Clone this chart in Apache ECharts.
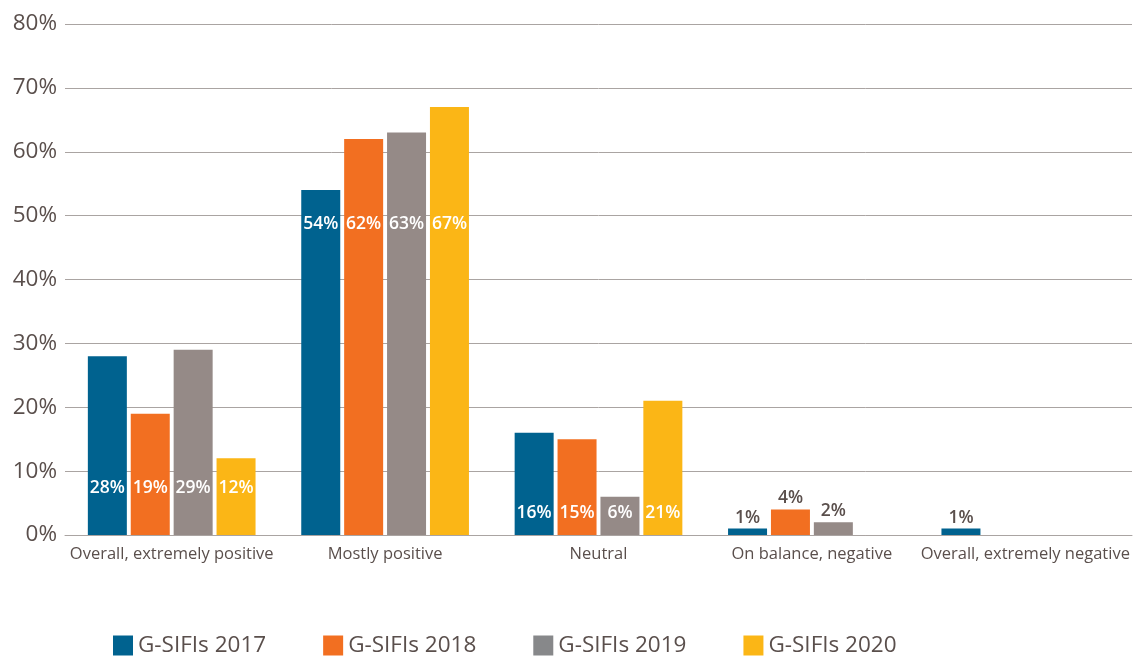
<!DOCTYPE html>
<html>
<head>
<meta charset="utf-8">
<script src="https://cdn.jsdelivr.net/npm/echarts@6/dist/echarts.min.js"></script>
<style>
html,body{margin:0;padding:0;background:#fff;}
#chart{width:1137px;height:658px;}
</style>
</head>
<body>
<div id="chart"></div>
<script>
const categories = ['Overall, extremely positive', 'Mostly positive', 'Neutral', 'On balance, negative', 'Overall, extremely negative'];
const seriesNames = ['G-SIFIs 2017', 'G-SIFIs 2018', 'G-SIFIs 2019', 'G-SIFIs 2020'];
const values2017 = [28, 54, 16, 1, 1];
const values2018 = [19, 62, 15, 4, 0];
const values2019 = [29, 63, 6, 2, 0];
const values2020 = [12, 67, 21, 0, 0];
const yTicks = [0, 10, 20, 30, 40, 50, 60, 70, 80];

const colors = ['#00628f', '#f26f21', '#958a87', '#fbb616'];
const legendColors = ['#00628f', '#f26f21', '#87888a', '#fbb616'];
// label placement per category: inside-bottom distance in px, or null => above bar
const insideDistance = [38, 302, 13, null, null];
const textColor = '#5a4f4c';
const FONT = '"Open Sans", Lato, sans-serif';

function buildData(vals) {
  return vals.map((v, i) => {
    if (v === 0) return { value: v, label: { show: false } };
    const d = insideDistance[i];
    if (d === null) {
      return { value: v, label: { show: true, position: 'top', distance: 2, color: textColor } };
    }
    return { value: v, label: { show: true, position: 'insideBottom', distance: d, color: '#ffffff' } };
  });
}

const allValues = [values2017, values2018, values2019, values2020];
const chart = echarts.init(document.getElementById('chart'), null, { renderer: 'canvas' });
chart.setOption({
  animation: false,
  textStyle: { fontFamily: FONT },
  grid: { left: 65, right: 5, top: 24, bottom: 123, containLabel: false },
  legend: {
    top: 629,
    left: 108,
    itemWidth: 20,
    itemHeight: 20,
    itemGap: 57,
    icon: 'rect',
    textStyle: { fontSize: 22.5, color: textColor, fontFamily: FONT },
    data: seriesNames.map((n, i) => ({ name: n, itemStyle: { color: legendColors[i] } }))
  },
  xAxis: {
    type: 'category',
    data: categories,
    axisTick: { show: false },
    axisLine: { show: true, lineStyle: { color: '#aaa4a2', width: 1 } },
    axisLabel: { fontSize: 16.5, color: textColor, margin: 11, interval: 0 }
  },
  yAxis: {
    type: 'value',
    min: yTicks[0],
    max: yTicks[yTicks.length - 1],
    interval: 10,
    axisLine: { show: false },
    axisTick: { show: false },
    axisLabel: { formatter: '{value}%', fontSize: 22.5, color: textColor, margin: 8 },
    splitLine: { lineStyle: { color: '#aaa4a2', width: 1 } }
  },
  series: allValues.map((vals, i) => ({
    name: seriesNames[i],
    type: 'bar',
    barWidth: 39,
    barGap: '10%',
    itemStyle: { color: colors[i] },
    label: {
      show: true,
      formatter: '{c}%',
      fontSize: 17.5,
      fontWeight: 600,
      fontFamily: FONT
    },
    data: buildData(vals)
  }))
});
</script>
</body>
</html>
